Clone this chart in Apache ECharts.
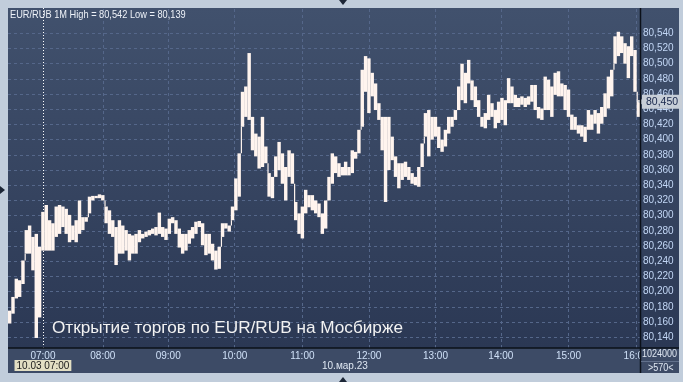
<!DOCTYPE html>
<html>
<head>
<meta charset="utf-8">
<script src="https://cdn.jsdelivr.net/npm/echarts@6/dist/echarts.min.js"></script>
<style>
html,body{margin:0;padding:0;background:#c1cddb;}
#chart{width:683px;height:382px;}
</style>
</head>
<body>
<div id="chart"></div>
<script>
// ---- data (EUR/RUB 1-minute bars, sampled per 3 bars: high / low) ----
const instrument = 'EUR/RUB';
const timeframe = '1M';
const barCount = 570;
const sampleStep = 3;
const hourLabels = ['07:00','08:00','09:00','10:00','11:00','12:00','13:00','14:00','15:00','16:00'];
const hourBars   = [31, 85, 144, 204, 265, 325, 385, 444, 505, 566];
const cursorBar = 31;
const cursorLabel = '10.03 07:00';
const dateLabel = '10.мар.23';
const volumeText = '1024000';
const barsText = '>570<';
const lastPrice = 80450;
const yTicks = [80140,80160,80180,80200,80220,80240,80260,80280,80300,80320,80340,
                80360,80380,80400,80420,80440,80460,80480,80500,80520,80540];
const caption = 'Открытие торгов по EUR/RUB на Мосбирже';

const highs = [
  80175,80193,80217,80215,80241,80281,80287,80272,80276,80259,
  80305,80314,80294,80290,80312,80314,80312,80309,80301,80287,
  80294,80320,80298,80298,80325,80326,80326,80328,80327,80312,
  80307,80294,80285,80294,80287,80281,80276,80274,
  80276,80281,80276,80279,80281,80283,80285,80304,80285,80283,
  80296,80298,80294,80283,80276,80276,80281,80285,80292,80293,
  80290,80276,80276,80263,80254,80259,80290,80290,80287,80312,
  80349,80382,80463,80470,80514,80430,80408,80404,
  80430,80391,80356,80351,80378,80397,80382,80364,80386,80382,
  80318,80303,80312,80334,80327,80327,80320,80316,80303,80320,
  80351,80382,80378,80369,80364,80371,80364,80386,80384,80413,
  80492,80510,80507,80488,80474,80448,80430,80430,
  80430,80404,80378,80369,80369,80371,80364,80356,80351,80364,
  80395,80435,80439,80430,80430,80417,80400,80413,80430,80430,
  80439,80470,80500,80488,80505,80478,80470,80452,80430,80435,
  80459,80448,80439,80450,80455,80452,80481,80470,
  80459,80455,80457,80455,80457,80472,80472,80443,80441,80483,
  80479,80470,80488,80490,80474,80472,80466,80433,80430,80419,
  80419,80417,80439,80433,80439,80435,80443,80461,80483,80492,
  80536,80542,80536,80527,80523,80536,80518,80452
];
const lows = [
  80158,80171,80191,80193,80210,80250,80250,80228,80139,80166,
  80254,80254,80254,80254,80272,80276,80285,80276,80265,80268,
  80265,80276,80281,80292,80303,80320,80323,80323,80320,80290,
  80276,80272,80235,80250,80250,80254,80241,80250,
  80250,80265,80270,80272,80274,80276,80274,80276,80272,80268,
  80276,80290,80276,80258,80250,80254,80263,80270,80276,80285,
  80261,80248,80250,80241,80229,80230,80272,80283,80279,80294,
  80307,80325,80417,80430,80426,80386,80378,80362,
  80364,80369,80325,80323,80351,80360,80342,80320,80351,80342,
  80294,80276,80270,80303,80311,80307,80303,80298,80276,80283,
  80320,80342,80356,80351,80353,80353,80353,80356,80375,80382,
  80417,80463,80435,80457,80439,80426,80386,80318,
  80360,80373,80351,80336,80347,80351,80347,80342,80340,80338,
  80364,80404,80378,80400,80404,80389,80384,80391,80408,80417,
  80426,80439,80452,80448,80474,80452,80443,80430,80417,80415,
  80426,80430,80415,80422,80426,80419,80448,80448,
  80443,80443,80446,80443,80446,80450,80439,80428,80426,80439,
  80439,80430,80459,80457,80457,80439,80430,80413,80413,80408,
  80404,80397,80413,80413,80421,80408,80421,80430,80441,80457,
  80500,80510,80514,80500,80481,80510,80463,80430
];

// ---- helpers ----
const fmtPrice = v => (v / 1000).toFixed(3).replace('.', ',');
const cats = Array.from({length: barCount}, (_, i) => {
  const k = hourBars.indexOf(i);
  return k >= 0 ? hourLabels[k] : '';
});
const seriesData = highs.map((h, i) => [i * sampleStep + 1, lows[i], h]);
const hi = Math.max.apply(null, highs), lo = Math.min.apply(null, lows);
const headText = instrument + ' ' + timeframe + ' High = ' + fmtPrice(hi) + ' Low = ' + fmtPrice(lo);

const FONT = '"Liberation Sans",Arial,sans-serif';
const gridLine = {color: '#55678a', width: 1, type: [3, 3]};
const BAR = '#fff4ee';

const markData = [];
yTicks.forEach(v => markData.push({yAxis: v, lineStyle: gridLine, label: {show: false}}));
hourBars.slice(1).forEach(b => markData.push({xAxis: b, lineStyle: gridLine, label: {show: false}}));
markData.push({
  xAxis: cursorBar,
  lineStyle: {color: '#ffffff', width: 1, type: [1, 2]},
  label: {show: true, position: 'start', formatter: cursorLabel, distance: 12,
          backgroundColor: '#e3dfc3', color: '#1a1a1a', padding: [1, 2, 0, 2],
          fontFamily: FONT, fontSize: 10}
});
markData.push({
  yAxis: lastPrice,
  lineStyle: {color: 'rgba(0,0,0,0)', width: 0},
  label: {show: true, position: 'end', formatter: fmtPrice(lastPrice), distance: 2,
          backgroundColor: '#c7ced7', color: '#17254a', padding: [2, 4, 1, 4],
          fontFamily: FONT, fontSize: 10.5}
});

const chart = echarts.init(document.getElementById('chart'), null, {renderer: 'canvas'});
chart.setOption({
  animation: false,
  backgroundColor: '#c1cddb',
  grid: {left: 8, top: 8, width: 632, height: 340, containLabel: false},
  xAxis: {
    type: 'category', data: cats, boundaryGap: true,
    axisLine: {show: false}, axisTick: {show: false}, splitLine: {show: false},
    axisLabel: {
      interval: (idx, val) => val !== '',
      color: '#cfe0f7', fontFamily: FONT, fontSize: 10, margin: 3
    }
  },
  yAxis: {
    type: 'value', position: 'right', min: 80125.8, max: 80573.3, scale: true,
    axisLine: {show: false}, axisTick: {show: false}, splitLine: {show: false},
    axisLabel: {
      customValues: yTicks,
      formatter: v => fmtPrice(v),
      color: '#c2d6f5', fontFamily: FONT, fontSize: 10, margin: 3
    }
  },
  series: [{
    type: 'custom',
    clip: true,
    data: seriesData,
    encode: {x: 0, y: [1, 2]},
    renderItem: function (params, api) {
      const i = params.dataIndex;
      const x = api.value(0);
      const pLo = api.coord([x, api.value(1)]);
      const pHi = api.coord([x, api.value(2)]);
      const bw = api.size([1, 0])[0] * sampleStep;
      const w = bw + 0.1;
      const children = [{
        type: 'rect',
        shape: {x: pLo[0] - w / 2, y: pHi[1], width: w, height: Math.max(1, pLo[1] - pHi[1])},
        style: {fill: BAR}
      }];
      if (i > 0) {
        const pl = lows[i - 1], ph = highs[i - 1];
        let a = null, b = null;
        if (api.value(1) > ph) { a = ph; b = api.value(1); }
        else if (api.value(2) < pl) { a = api.value(2); b = pl; }
        if (a !== null) {
          const ya = api.coord([x, a])[1], yb = api.coord([x, b])[1];
          children.push({
            type: 'rect',
            shape: {x: pLo[0] - w / 2, y: Math.min(ya, yb), width: 1.2, height: Math.abs(ya - yb)},
            style: {fill: BAR}
          });
        }
      }
      return {type: 'group', children: children};
    },
    markLine: {silent: true, symbol: 'none', animation: false, z: 1, data: markData},
    markPoint: {
      silent: true, animation: false,
      data: [{coord: [barCount - 1, lastPrice], symbol: 'triangle', symbolRotate: 90,
              symbolSize: [7, 6], symbolOffset: [1, 0], itemStyle: {color: '#c7ced7'}, label: {show: false}}]
    }
  }],
  graphic: [
    {type: 'rect', z: -10, shape: {x: 8, y: 8, width: 671, height: 340},
     style: {fill: new echarts.graphic.LinearGradient(0, 0, 0, 1, [
       {offset: 0, color: '#41516d'}, {offset: 1, color: '#2b3854'}])}},
    {type: 'rect', z: -10, shape: {x: 8, y: 348, width: 671, height: 25}, style: {fill: '#3d4b66'}},
    {type: 'rect', z: 60, shape: {x: 641, y: 349, width: 38, height: 24}, style: {fill: '#3d4b66'}},
    {type: 'line', z: 70, shape: {x1: 8, y1: 348, x2: 679, y2: 348}, style: {stroke: '#0b1019', lineWidth: 1.5}},
    {type: 'line', z: 70, shape: {x1: 640.5, y1: 8, x2: 640.5, y2: 373}, style: {stroke: '#0b1019', lineWidth: 1.5}},
    {type: 'line', z: 70, shape: {x1: 641, y1: 361.5, x2: 679, y2: 361.5}, style: {stroke: '#62718c', lineWidth: 1}},
    {type: 'text', z: 70, x: 642, y: 349.5, scaleX: 0.9, style: {text: volumeText, fill: '#dfe7f2', font: '10px ' + FONT}},
    {type: 'text', z: 70, x: 648, y: 363, scaleX: 0.9, style: {text: barsText, fill: '#dfe7f2', font: '10px ' + FONT}},
    {type: 'text', z: 70, x: 322, y: 361.5, style: {text: dateLabel, fill: '#dfe7f2', font: '10px ' + FONT}},
    {type: 'text', z: 70, x: 10, y: 9, scaleX: 0.84, style: {text: headText, fill: '#eef2f8', font: '11px ' + FONT}},
    {type: 'text', z: 70, x: 52, y: 320, style: {text: caption, fill: '#f2f2f2', font: '17.2px ' + FONT}},
    {type: 'polygon', z: 70, shape: {points: [[339, 0], [347, 0], [343, 5]]}, style: {fill: '#1c2636'}},
    {type: 'polygon', z: 70, shape: {points: [[339, 382], [347, 382], [343, 377]]}, style: {fill: '#1c2636'}},
    {type: 'polygon', z: 70, shape: {points: [[0, 186], [0, 194], [5, 190]]}, style: {fill: '#1c2636'}}
  ]
});
</script>
</body>
</html>
